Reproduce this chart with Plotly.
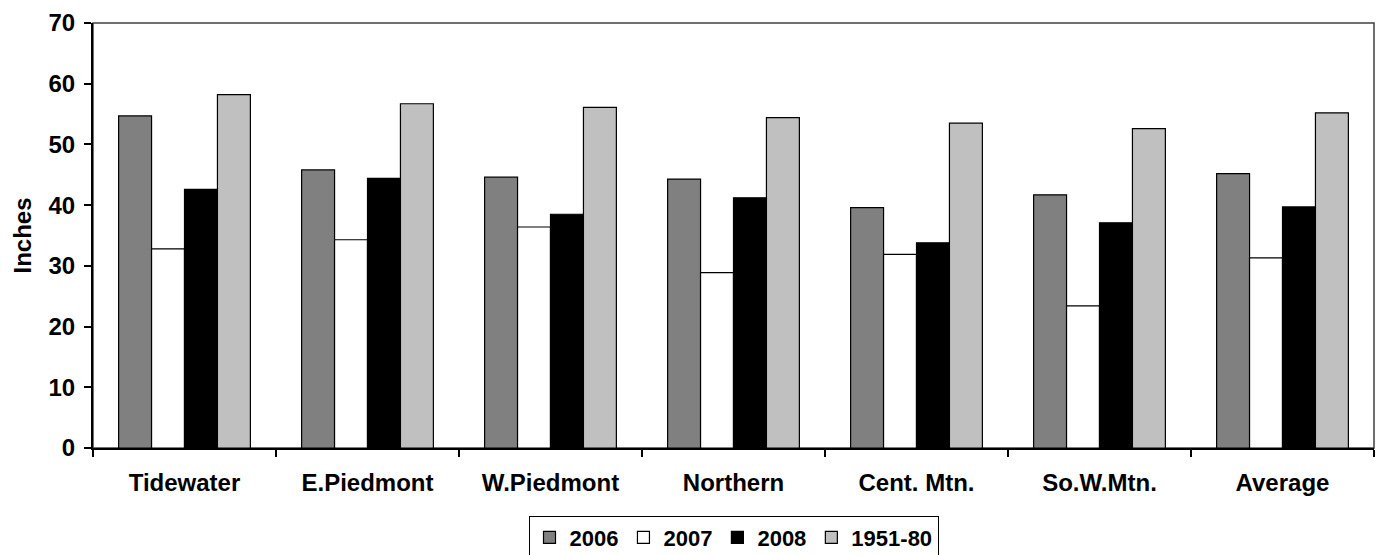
import plotly.graph_objects as go

categories = ["Tidewater", "E.Piedmont", "W.Piedmont", "Northern", "Cent. Mtn.", "So.W.Mtn.", "Average"]
series_names = ["2006", "2007", "2008", "1951-80"]
v2006 = [54.7, 45.8, 44.6, 44.3, 39.6, 41.7, 45.2]
v2007 = [32.8, 34.3, 36.4, 28.9, 31.9, 23.4, 31.3]
v2008 = [42.6, 44.4, 38.5, 41.2, 33.8, 37.1, 39.7]
v1951_80 = [58.2, 56.7, 56.1, 54.4, 53.5, 52.6, 55.2]
y_ticks = [0, 10, 20, 30, 40, 50, 60, 70]

colors = ["#808080", "#FFFFFF", "#000000", "#C0C0C0"]
values = [v2006, v2007, v2008, v1951_80]

FONT = "Liberation Sans, Arial, sans-serif"
fnt = dict(family=FONT, size=24, color="black", weight="bold")
legend_fnt = dict(family=FONT, size=22, color="black", weight="bold")

fig = go.Figure()
for name, vals, col in zip(series_names, values, colors):
    fig.add_trace(go.Bar(
        x=categories, y=vals, name=name,
        marker=dict(color=col, line=dict(color="#000000", width=1.2)),
    ))

fig.update_layout(
    width=1385, height=555,
    barmode="group", bargap=0.28, bargroupgap=0,
    plot_bgcolor="white", paper_bgcolor="white",
    margin=dict(l=93, r=11, t=23, b=107, autoexpand=False),
    font=fnt,
    showlegend=True,
    legend=dict(
        orientation="h", x=0.5, xanchor="center",
        yref="container", y=0.071, yanchor="top",
        bordercolor="black", borderwidth=1,
        font=legend_fnt, itemwidth=30, tracegroupgap=0,
    ),
    shapes=[dict(type="rect", xref="paper", yref="paper", x0=0, x1=1, y0=0, y1=1,
                 line=dict(color="#404040", width=1.5), layer="below")],
)

fig.update_xaxes(
    showline=True, linecolor="black", linewidth=2,
    ticks="outside", ticklen=7, tickwidth=1.5, tickcolor="black",
    tickson="boundaries", showgrid=False, automargin=False,
    ticklabelstandoff=12,
    tickfont=fnt,
)
fig.update_yaxes(
    range=[0, 70], tickvals=y_ticks,
    showline=True, linecolor="black", linewidth=2,
    ticks="outside", ticklen=7, tickwidth=1.5, tickcolor="black",
    showgrid=False, zeroline=False, automargin=False,
    ticklabelstandoff=4,
    tickfont=fnt,
    title=dict(text="Inches", standoff=10, font=fnt),
)

fig.write_html(
    "out.html",
    config={"displayModeBar": False},
    post_script="document.body.style.margin='0';document.body.style.overflow='hidden';",
)
